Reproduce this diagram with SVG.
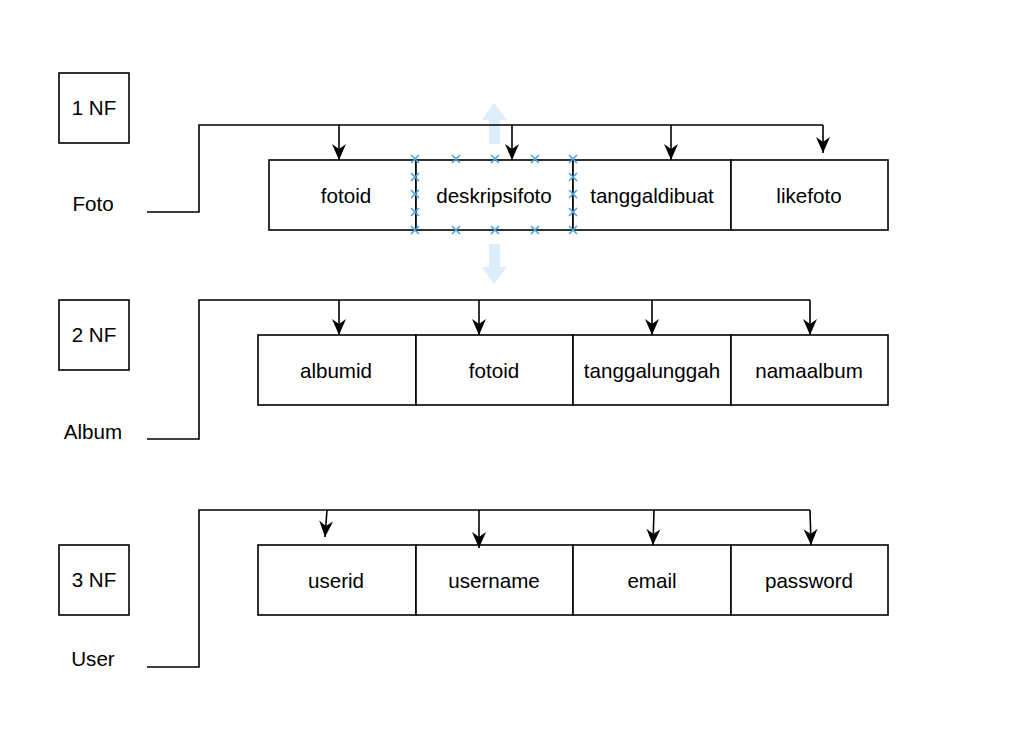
<svg xmlns="http://www.w3.org/2000/svg" width="1031" height="748" viewBox="0 0 1031 748">
<style>
.box{fill:#ffffff;stroke:#000000;stroke-width:1.6}
.t{font-family:"Liberation Sans",Arial,sans-serif;font-size:20.6px;fill:#000000;text-anchor:middle}
.ln{fill:none;stroke:#000000;stroke-width:1.6}
.ar{fill:none;stroke:#000000;stroke-width:1.6;marker-end:url(#head)}
.hx{stroke:#4aa3df;stroke-width:1.6;fill:none}
.ha{fill:#dcedfb}
</style>
<defs>
<marker id="head" markerUnits="userSpaceOnUse" markerWidth="18" markerHeight="16" refX="16" refY="8" orient="auto" overflow="visible">
<path d="M16,8 L0,1 L5,8 L0,15 Z" fill="#000000"/>
</marker>
<path id="x" d="M-4,-4 L4,4 M-4,4 L4,-4"/>
</defs>
<rect width="1031" height="748" fill="#ffffff"/>

<g id="selection-overlay-arrows">
<path class="ha" d="M494,103 L507,120 L500,120 L500,144 L489,144 L489,120 L482,120 Z"/>
<path class="ha" d="M494,284 L507,267 L500,267 L500,244 L489,244 L489,267 L482,267 Z"/>
</g>

<g id="label-1nf"><rect class="box" x="59" y="73" width="70" height="70"/><text class="t" x="94" y="115">1 NF</text></g>
<g id="label-2nf"><rect class="box" x="59" y="300" width="70" height="70"/><text class="t" x="94" y="342">2 NF</text></g>
<g id="label-3nf"><rect class="box" x="59" y="545" width="70" height="70"/><text class="t" x="94" y="587">3 NF</text></g>
<g id="label-foto"><text class="t" x="93" y="211">Foto</text></g>
<g id="label-album"><text class="t" x="93" y="439">Album</text></g>
<g id="label-user"><text class="t" x="93" y="666">User</text></g>

<g id="foto-fotoid"><rect class="box" x="269" y="160" width="147" height="70"/><text class="t" x="346" y="203">fotoid</text></g>
<g id="foto-deskripsifoto"><rect class="box" x="416" y="160" width="157" height="70"/><text class="t" x="494" y="203">deskripsifoto</text></g>
<g id="foto-tanggaldibuat"><rect class="box" x="573" y="160" width="158" height="70"/><text class="t" x="652" y="203">tanggaldibuat</text></g>
<g id="foto-likefoto"><rect class="box" x="731" y="160" width="157" height="70"/><text class="t" x="809" y="203">likefoto</text></g>

<g id="album-albumid"><rect class="box" x="258" y="335" width="158" height="70"/><text class="t" x="336" y="378">albumid</text></g>
<g id="album-fotoid"><rect class="box" x="416" y="335" width="157" height="70"/><text class="t" x="494" y="378">fotoid</text></g>
<g id="album-tanggalunggah"><rect class="box" x="573" y="335" width="158" height="70"/><text class="t" x="652" y="378">tanggalunggah</text></g>
<g id="album-namaalbum"><rect class="box" x="731" y="335" width="157" height="70"/><text class="t" x="809" y="378">namaalbum</text></g>

<g id="user-userid"><rect class="box" x="258" y="545" width="158" height="70"/><text class="t" x="336" y="588">userid</text></g>
<g id="user-username"><rect class="box" x="416" y="545" width="157" height="70"/><text class="t" x="494" y="588">username</text></g>
<g id="user-email"><rect class="box" x="573" y="545" width="158" height="70"/><text class="t" x="652" y="588">email</text></g>
<g id="user-password"><rect class="box" x="731" y="545" width="157" height="70"/><text class="t" x="809" y="588">password</text></g>

<g id="connectors">
<polyline class="ln" points="147,212 199,212 199,125 823,125"/>
<line class="ar" x1="339" y1="125" x2="339" y2="160"/>
<line class="ar" x1="512" y1="125" x2="512" y2="160"/>
<line class="ar" x1="671" y1="125" x2="671" y2="160"/>
<line class="ar" x1="823" y1="125" x2="823" y2="153"/>

<polyline class="ln" points="147,439 199,439 199,300 810,300"/>
<line class="ar" x1="339" y1="300" x2="339" y2="335"/>
<line class="ar" x1="479" y1="300" x2="479" y2="335"/>
<line class="ar" x1="652" y1="300" x2="652" y2="335"/>
<line class="ar" x1="810" y1="300" x2="810" y2="335"/>

<polyline class="ln" points="147,667 199,667 199,510 810,510"/>
<line class="ar" x1="327" y1="510" x2="325" y2="537"/>
<line class="ar" x1="479" y1="510" x2="479" y2="548"/>
<line class="ar" x1="654" y1="510" x2="653" y2="545"/>
<line class="ar" x1="810" y1="510" x2="811" y2="545"/>
</g>

<g id="selection-overlay-handles" class="hx">
<use href="#x" x="415" y="159"/><use href="#x" x="415" y="177"/><use href="#x" x="415" y="194"/><use href="#x" x="415" y="212"/><use href="#x" x="415" y="230"/>
<use href="#x" x="573" y="159"/><use href="#x" x="573" y="177"/><use href="#x" x="573" y="194"/><use href="#x" x="573" y="212"/><use href="#x" x="573" y="230"/>
<use href="#x" x="456" y="159"/><use href="#x" x="495" y="159"/><use href="#x" x="535" y="159"/>
<use href="#x" x="456" y="230"/><use href="#x" x="495" y="230"/><use href="#x" x="535" y="230"/>
</g>
</svg>
